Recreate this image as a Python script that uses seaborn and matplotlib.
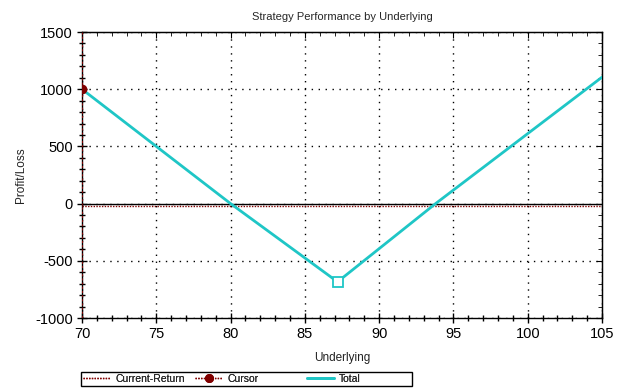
import matplotlib
matplotlib.use("Agg")
import matplotlib.pyplot as plt
from matplotlib.lines import Line2D
from matplotlib.patches import Rectangle
from matplotlib.ticker import MultipleLocator
import seaborn as sns
import pandas as pd

# data
underlying = [70, 80, 87.2, 93.8, 105]
total_pl = [1000, 0, -684, 0, 1105]
min_point_x = [87.2]
min_point_y = [-684]
current_return = -17
cursor_x = 70
cursor_y = 1000
legend_labels = ["Current-Return", "Cursor", "Total"]

sns.set_style("ticks")
plt.rcParams['font.family'] = ['Liberation Sans', 'DejaVu Sans']
plt.rcParams['axes.unicode_minus'] = False

CYAN = "#1fc6c6"
MAROON = "#800000"

fig = plt.figure(figsize=(6.22, 3.91), dpi=100)
ax = fig.add_axes([82/622, 1-318/391, (602-82)/622, (318-32)/391])

df = pd.DataFrame({"Underlying": underlying, "Profit/Loss": total_pl})
sns.lineplot(data=df, x="Underlying", y="Profit/Loss", ax=ax, color=CYAN,
             linewidth=2, zorder=4)
ax.plot(min_point_x, min_point_y, marker="s", markersize=6.5, markerfacecolor="white",
        markeredgecolor=CYAN, markeredgewidth=1.3, linestyle="none", zorder=5)

ax.axhline(0, color="black", linewidth=1, zorder=3)
ax.axhline(current_return, color=MAROON, linewidth=1, linestyle=(0, (1, 1)), zorder=3)
ax.axvline(cursor_x, color=MAROON, linewidth=1.5, linestyle=(0, (1, 1)), zorder=3)
cur, = ax.plot([cursor_x], [cursor_y], marker="o", markersize=6, color=MAROON,
               linestyle="none", zorder=6)
cur.set_clip_path(ax.patch)

ax.set_xlim(70, 105)
ax.set_ylim(-1000, 1500)
ax.xaxis.set_major_locator(MultipleLocator(5))
ax.xaxis.set_minor_locator(MultipleLocator(1))
ax.yaxis.set_major_locator(MultipleLocator(500))
ax.yaxis.set_minor_locator(MultipleLocator(100))

ax.grid(True, which="major", color="black", linestyle=(0, (1, 4)), linewidth=1)

for s in ax.spines.values():
    s.set_visible(True)
    s.set_color("black")
    s.set_linewidth(1)

ax.tick_params(which="both", top=False, right=False, direction="inout", color="black",
               labelsize=10.5, labelcolor="black")
ax.tick_params(which="major", length=7, width=1, pad=3)
ax.tick_params(which="minor", length=5, width=1)

# inward ticks on top and right
secx = ax.secondary_xaxis("top")
secx.xaxis.set_major_locator(MultipleLocator(5))
secx.xaxis.set_minor_locator(MultipleLocator(1))
secx.tick_params(which="both", direction="in", labeltop=False, color="black")
secx.tick_params(which="major", length=4)
secx.tick_params(which="minor", length=3)
secy = ax.secondary_yaxis("right")
secy.yaxis.set_major_locator(MultipleLocator(500))
secy.yaxis.set_minor_locator(MultipleLocator(100))
secy.tick_params(which="both", direction="in", labelright=False, color="black")
secy.tick_params(which="major", length=4)
secy.tick_params(which="minor", length=3)

ax.set_xlabel("Underlying", fontsize=8.5, labelpad=8, color="#222222")
ax.set_ylabel("Profit/Loss", fontsize=8.5, labelpad=6, color="#222222")
ax.set_title("Strategy Performance by Underlying", fontsize=8, pad=9)

# legend frame and three fixed-width entries
fig.add_artist(Rectangle((81/622, 1-386/391), (412-81)/622, 14/391,
                         transform=fig.transFigure, facecolor="white",
                         edgecolor="black", linewidth=1))
handles = [
    Line2D([], [], color=MAROON, linestyle=(0, (1, 1)), linewidth=1),
    Line2D([], [], color=MAROON, linestyle=(0, (1, 1)), linewidth=1, marker="o", markersize=5.5),
    Line2D([], [], color=CYAN, linewidth=2),
]
starts = [83, 195, 307]
for h, lab, x0 in zip(handles, legend_labels, starts):
    lg = fig.legend([h], [lab], loc="center left",
                    bbox_to_anchor=(x0/622, 1-379/391), fontsize=7.5,
                    frameon=False, handlelength=2.6, handletextpad=0.5,
                    borderpad=0, borderaxespad=0)
    fig.add_artist(lg)

fig.savefig("out.png", dpi=100, facecolor="white")
